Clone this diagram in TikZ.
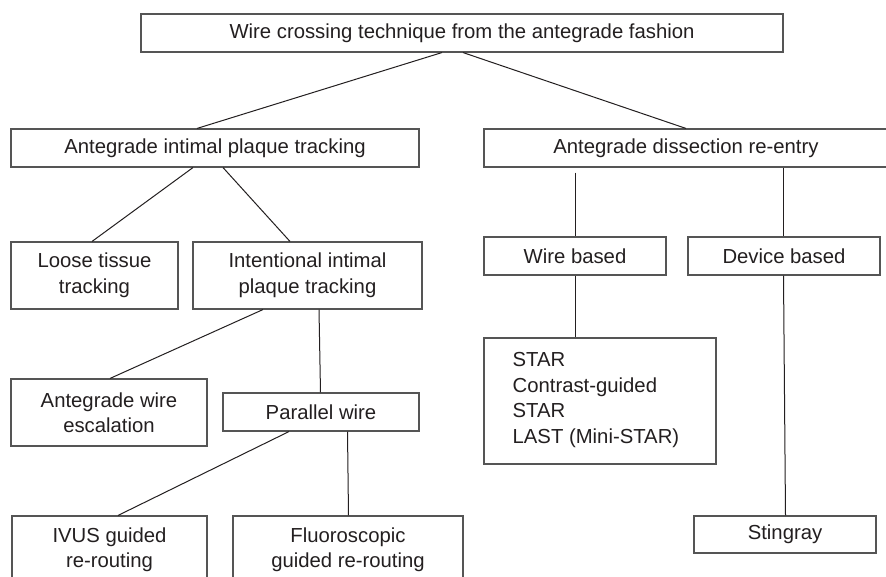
\documentclass[tikz,border=0pt]{standalone}
\usepackage{fontspec}
\setmainfont{Liberation Sans}
\usetikzlibrary{calc}
\definecolor{ink}{HTML}{231F20}
\definecolor{edge}{HTML}{555555}
\tikzset{
  box/.style={draw=edge, line width=1.1pt, fill=white, inner sep=0pt, align=center,
    text=ink, font=\fontsize{20.3}{25.5}\selectfont},
  conn/.style={draw=ink, line width=1pt},
  plain/.style={inner sep=0pt, align=left, text=ink, font=\fontsize{20.3}{25.8}\selectfont}
}
\begin{document}
\begin{tikzpicture}[x=1pt, y=-1pt]
\useasboundingbox (0,0) rectangle (886,577);
\fill[white] (0,0) rectangle (886,577);

% level 1
\node[box, minimum width=642, minimum height=38] (top) at (462,33) {Wire crossing technique from the antegrade fashion};
% level 2
\node[box, minimum width=408, minimum height=38] (aipt) at (215,148) {Antegrade intimal plaque tracking};
\node[box, minimum width=404, minimum height=38] (adr) at (686,148) {Antegrade dissection re-entry};
% left branch
\node[box, minimum width=167, minimum height=67] (loose) at (94.5,275.5) {Loose tissue\\tracking};
\node[box, minimum width=229, minimum height=67] (intent) at (307.5,275.5) {Intentional intimal\\plaque tracking};
\node[box, minimum width=196, minimum height=67] (awe) at (109,412.5) {Antegrade wire\\escalation};
\node[box, minimum width=196, minimum height=38] (pw) at (321,412) {Parallel wire};
\node[box, minimum width=195, minimum height=67] (ivus) at (109.5,549.5) {IVUS guided\\re-routing};
\node[box, minimum width=230, minimum height=67] (fluoro) at (348,549.5) {Fluoroscopic\\guided re-routing};
% right branch
\node[box, minimum width=182, minimum height=38] (wb) at (575,256) {Wire based};
\node[box, minimum width=192, minimum height=38] (db) at (784,256) {Device based};
\node[box, minimum width=232, minimum height=126] (star) at (600,401) {};
\node[plain, anchor=west] (startext) at ([xshift=29pt,yshift=1pt]star.west) {STAR\\Contrast-guided\\STAR\\LAST (Mini-STAR)};
\node[box, minimum width=182, minimum height=37] (sting) at (785,534.5) {Stingray};

% connectors
\draw[conn] ([xshift=-20pt]top.south) -- ([xshift=-18pt]aipt.north);
\draw[conn] ([xshift=1pt]top.south) -- (adr.north);
\draw[conn] ([xshift=-22pt]aipt.south) -- ([xshift=-2.5pt]loose.north);
\draw[conn] ([xshift=8pt]aipt.south) -- ([xshift=-17.5pt]intent.north);
\draw[conn] ([xshift=-44.5pt]intent.south) -- ([xshift=1pt]awe.north);
\draw[conn] ([xshift=11.5pt]intent.south) -- ([xshift=-0.5pt]pw.north);
\draw[conn] ([xshift=-32pt]pw.south) -- ([xshift=8.5pt]ivus.north);
\draw[conn] ([xshift=26.5pt]pw.south) -- ([xshift=0.5pt]fluoro.north);
\draw[conn] ([yshift=-5pt]adr.south -| wb.north) -- (wb.north);
\draw[conn] ([xshift=-0.5pt]adr.south -| db.north) -- ([xshift=-0.5pt]db.south |- db.north);
\draw[conn] (wb.south) -- (wb.south |- star.north);
\draw[conn] ([xshift=-0.5pt]db.south) -- ([xshift=0.5pt]sting.north);
\end{tikzpicture}
\end{document}
